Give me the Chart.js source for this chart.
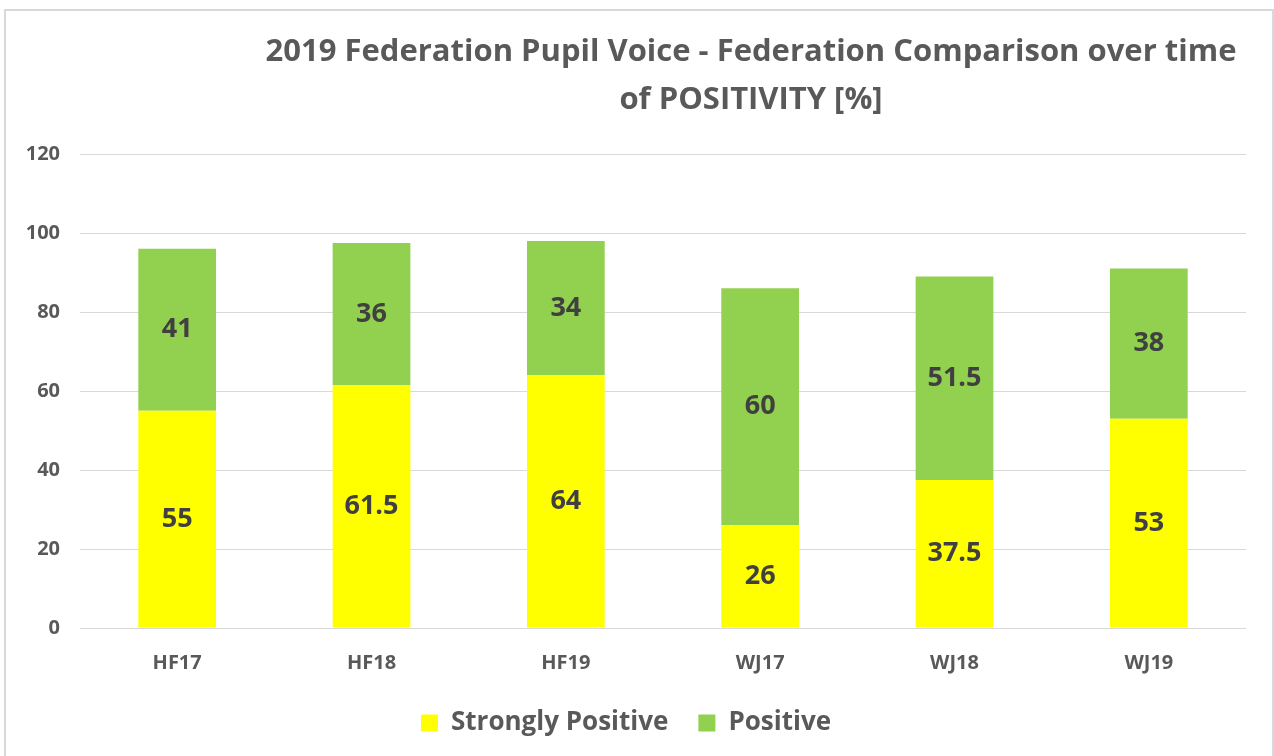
<!DOCTYPE html>
<html>
<head>
<meta charset="utf-8">
<script src="https://cdn.jsdelivr.net/npm/chart.js@4/dist/chart.umd.min.js"></script>
<style>
  body { margin: 0; background: #fff; }
  #frame {
    position: absolute; left: 4px; top: 9px;
    width: 1266px; height: 760px;
    border: 2px solid #d9d9d9;
    background: #fff;
  }
  #frame canvas { display: block; }
</style>
</head>
<body>
<div id="frame"><canvas id="bar-chart" width="1266" height="745"></canvas></div>
<script>
var categories = ['HF17', 'HF18', 'HF19', 'WJ17', 'WJ18', 'WJ19'];
var stronglyPositive = [55, 61.5, 64, 26, 37.5, 53];
var positive = [41, 36, 34, 60, 51.5, 38];
var yTicks = [0, 20, 40, 60, 80, 100, 120];
var titleLines = ['2019 Federation Pupil Voice - Federation Comparison over time', 'of POSITIVITY [%]'];

var grey = '#595959';

// title drawn off-centre like the original
var titlePlugin = {
    id: 'offsetTitle',
    afterDraw: function(chart) {
        var ctx = chart.ctx;
        ctx.save();
        ctx.fillStyle = grey;
        ctx.font = 'bold 31px "Open Sans"';
        ctx.textAlign = 'center';
        ctx.textBaseline = 'middle';
        ctx.fillText(titleLines[0], 745, 41);
        ctx.fillText(titleLines[1], 745, 89);
        ctx.restore();
    }
};

// value labels in the middle of each segment
var valuePlugin = {
    id: 'valueLabels',
    afterDatasetsDraw: function(chart) {
        var ctx = chart.ctx;
        ctx.save();
        ctx.fillStyle = '#404040';
        ctx.font = 'bold 27px "Open Sans"';
        ctx.textAlign = 'center';
        ctx.textBaseline = 'middle';
        chart.data.datasets.forEach(function(ds, i) {
            var meta = chart.getDatasetMeta(i);
            meta.data.forEach(function(bar, j) {
                var mid = (bar.y + bar.base) / 2;
                ctx.fillText(String(ds.data[j]), bar.x, mid);
            });
        });
        ctx.restore();
    }
};

var ctx = document.getElementById('bar-chart');
var chart = new Chart(ctx, {
    type: 'bar',
    data: {
        labels: categories,
        datasets: [{
            label: 'Strongly Positive',
            data: stronglyPositive,
            backgroundColor: '#ffff00'
        }, {
            label: 'Positive',
            data: positive,
            backgroundColor: '#92d050'
        }]
    },
    options: {
        responsive: false,
        animation: false,
        layout: { padding: { top: 143, right: 26, left: 0, bottom: 10 } },
        datasets: { bar: { barPercentage: 0.4, categoryPercentage: 1 } },
        scales: {
            x: {
                stacked: true,
                grid: { display: false },
                border: { display: false },
                ticks: { color: grey, font: { family: 'Open Sans', size: 20, weight: 'bold' }, padding: 15 },
                afterFit: function(scale) { scale.height = 52; }
            },
            y: {
                stacked: true,
                min: 0,
                max: 120,
                afterBuildTicks: function(scale) {
                    scale.ticks = yTicks.map(function(v) { return { value: v }; });
                },
                grid: { color: '#d9d9d9', drawTicks: false },
                border: { display: false },
                ticks: { color: grey, font: { family: 'Open Sans', size: 20, weight: 'bold' }, padding: 20 },
                afterFit: function(scale) { scale.width = 74; }
            }
        },
        plugins: {
            title: { display: false },
            tooltip: { enabled: false },
            legend: {
                position: 'bottom',
                labels: {
                    color: grey,
                    boxWidth: 17,
                    boxHeight: 17,
                    padding: 30,
                    font: { family: 'Open Sans', size: 26, weight: 'bold' }
                }
            }
        }
    },
    plugins: [titlePlugin, valuePlugin]
});
</script>
</body>
</html>
